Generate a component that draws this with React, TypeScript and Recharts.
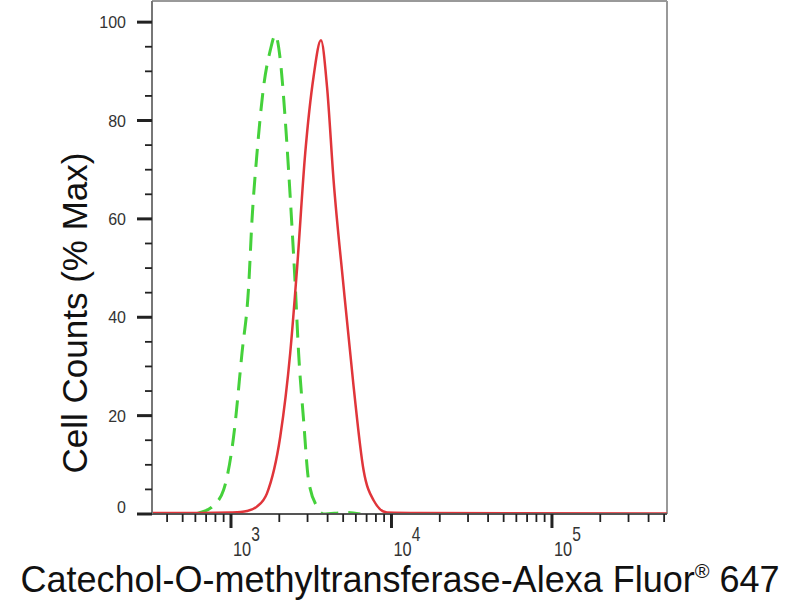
import React from "react";
import { LineChart, Line, XAxis, YAxis, ReferenceLine } from "recharts";

// ── Data ───────────────────────────────────────────────────────────────────

// sample (red, solid): fluorescence intensity -> % max
const sampleX = [322, 644, 990, 1150, 1258, 1450, 1676, 2027, 2339, 2576, 2902, 3270, 3637, 3966, 4357, 5032, 5809, 6703, 7733, 9370, 15100, 521000];
const sampleY = [0.2, 0.2, 0.3, 0.4, 0.6, 1.5, 4.2, 15.7, 32.7, 49.6, 73.4, 88.9, 96.3, 86.9, 67.9, 46.2, 25.9, 8.9, 2.8, 0.3, 0.2, 0.1];

// isotype control (green, dashed)
const controlX = [600, 644, 764, 899, 1038, 1171, 1288, 1352, 1453, 1597, 1758, 1889, 2029, 2180, 2285, 2399, 2517, 2639, 2834, 3043, 3432, 3777, 5152, 6400];
const controlY = [0, 0.3, 1.5, 4.9, 15.7, 32.7, 46.2, 59.8, 73.4, 86.9, 94.3, 97.4, 92.3, 80, 69.9, 58.4, 46.2, 32.7, 19.1, 6.9, 1.5, 0, 0.3, 0];

const xDomain = [322, 521000];
const yMax = 104.3;

const xMajorTicks = [1000, 10000, 100000];
const xMinorTicks = [
  400, 500, 600, 700, 800, 900,
  2000, 3000, 4000, 5000, 6000, 7000, 8000, 9000,
  20000, 30000, 40000, 50000, 60000, 70000, 80000, 90000,
  200000, 300000, 400000, 500000,
];
const yMajorTicks = [0, 20, 40, 60, 80, 100];
const yMinorTicks = [5, 10, 15, 25, 30, 35, 45, 50, 55, 65, 70, 75, 85, 90, 95];

const xTitle = "Catechol-O-methyltransferase-Alexa Fluor";
const yTitle = "Cell Counts (% Max)";

const FONT = "'Liberation Sans', Arial, sans-serif";

const sampleData = sampleX.map((x, i) => ({ x, y: sampleY[i] }));
const controlData = controlX.map((x, i) => ({ x, y: controlY[i] }));
const xTicks = [...xMinorTicks, ...xMajorTicks].sort((a, b) => a - b);
const yTicks = [...yMinorTicks, ...yMajorTicks].sort((a, b) => a - b);

// ── Custom ticks ───────────────────────────────────────────────────────────

function XTick({ x, y, payload }: any) {
  const v = payload.value;
  const exp = Math.round(Math.log10(v));
  const major = xMajorTicks.includes(v);
  return (
    <g>
      <line x1={x} x2={x} y1={y} y2={y + (major ? 14 : 8)} stroke="#222" strokeWidth={major ? 3 : 1.8} />
      {major && (
        <text
          transform={`translate(${x + 2},${y + 42}) scale(0.78,1)`}
          fontSize={21}
          fill="#333"
          fontFamily={FONT}
        >
          10
          <tspan dy={-15} fontSize={20}>
            {exp}
          </tspan>
        </text>
      )}
    </g>
  );
}

function YTick({ x, y, payload }: any) {
  const v = payload.value;
  const major = yMajorTicks.includes(v);
  return (
    <g>
      <line x1={x - (major ? 15 : 7)} x2={x} y1={y} y2={y} stroke="#222" strokeWidth={major ? 3 : 1.8} />
      {major && (
        <text x={x - 26} y={y + 6 - (v === 0 ? 7 : 0)} fontSize={16} fill="#333" textAnchor="end" fontFamily={FONT}>
          {v}
        </text>
      )}
    </g>
  );
}

// ── Chart ──────────────────────────────────────────────────────────────────

export default function App() {
  return (
    <div style={{ position: "absolute", left: 0, top: 0, background: "#fff" }}>
      <LineChart width={800} height={600} margin={{ top: 1, right: 133, left: 0, bottom: 0 }}>
        <XAxis
          type="number"
          dataKey="x"
          scale="log"
          domain={xDomain}
          allowDataOverflow
          ticks={xTicks}
          interval={0}
          tick={<XTick />}
          tickLine={false}
          tickSize={0}
          tickMargin={0}
          height={86}
          axisLine={{ stroke: "#555", strokeWidth: 2 }}
          label={{
            content: () => (
              <text x={400} y={592} textAnchor="middle" fontSize={36} fill="#111" fontFamily={FONT}>
                {xTitle}
                <tspan dy={-14} fontSize={20}>®</tspan>
                <tspan dy={14}> 647</tspan>
              </text>
            ),
          }}
        />
        <YAxis
          type="number"
          dataKey="y"
          domain={[0, yMax]}
          allowDataOverflow
          ticks={yTicks}
          interval={0}
          tick={<YTick />}
          tickLine={false}
          tickSize={0}
          tickMargin={0}
          width={152}
          axisLine={{ stroke: "#777", strokeWidth: 2 }}
          label={{
            content: () => (
              <text
                x={87}
                y={313}
                transform="rotate(-90 87 313)"
                textAnchor="middle"
                fontSize={35}
                fill="#111"
                fontFamily={FONT}
              >
                {yTitle}
              </text>
            ),
          }}
        />
        <ReferenceLine y={yMax} stroke="#999" strokeWidth={2} />
        <ReferenceLine x={xDomain[1]} stroke="#999" strokeWidth={2} />
        <Line
          data={controlData}
          dataKey="y"
          type="monotone"
          stroke="#45d13b"
          strokeWidth={3}
          strokeDasharray="18 10"
          dot={false}
          isAnimationActive={false}
        />
        <Line
          data={sampleData}
          dataKey="y"
          type="monotone"
          stroke="#e0353a"
          strokeWidth={2.5}
          dot={false}
          isAnimationActive={false}
        />
      </LineChart>
    </div>
  );
}
